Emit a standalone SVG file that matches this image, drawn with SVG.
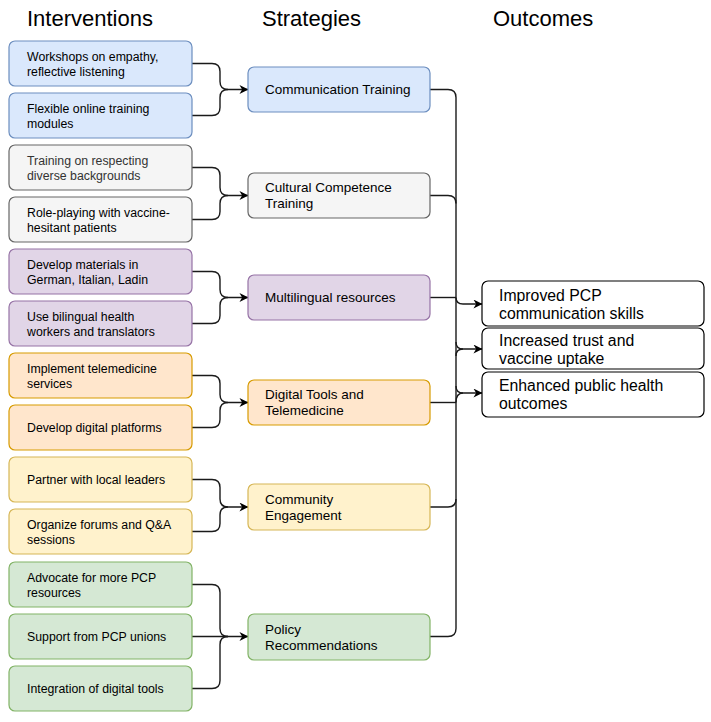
<svg xmlns="http://www.w3.org/2000/svg" width="711" height="722" viewBox="0 0 711 722">
<defs>
<marker id="arr" viewBox="0 0 10 10" refX="9.5" refY="5" markerWidth="11" markerHeight="9" markerUnits="userSpaceOnUse" orient="auto">
<path d="M0,0 L10,5 L0,10 L3,5 Z" fill="#000"/>
</marker>
<style>
text{font-family:"Liberation Sans",Arial,Helvetica,sans-serif;fill:#000}
.h{font-size:22px}
.i{font-size:12.3px}
.s{font-size:13.5px}
.o{font-size:15.8px}
rect{stroke-width:1.2}
.blue{fill:#dae8fc;stroke:#6c8ebf}
.gray{fill:#f5f5f5;stroke:#666666}
.purple{fill:#e1d5e7;stroke:#9673a6}
.orange{fill:#ffe6cc;stroke:#d79b00}
.yellow{fill:#fff2cc;stroke:#d6b656}
.green{fill:#d5e8d4;stroke:#82b366}
.out{fill:#fff;stroke:#000}
.e{fill:none;stroke:#1a1a1a;stroke-width:1.4}
</style>
</defs>
<rect width="711" height="722" fill="#fff"/>
<g id="headers">
<text class="h" x="27" y="26">Interventions</text>
<text class="h" x="262" y="26">Strategies</text>
<text class="h" x="493" y="26">Outcomes</text>
</g>
<g id="connectors">
<path class="e" d="M192,63.5 H212 Q220,63.5 220,71.5 V81.5 Q220,89.5 228,89.5 H248" marker-end="url(#arr)"/>
<path class="e" d="M192,115.5 H212 Q220,115.5 220,107.5 V97.5 Q220,89.5 228,89.5"/>
<path class="e" d="M192,167.5 H212 Q220,167.5 220,175.5 V187.5 Q220,195.5 228,195.5 H248" marker-end="url(#arr)"/>
<path class="e" d="M192,219.5 H212 Q220,219.5 220,211.5 V203.5 Q220,195.5 228,195.5"/>
<path class="e" d="M192,271.5 H212 Q220,271.5 220,279.5 V289.5 Q220,297.5 228,297.5 H248" marker-end="url(#arr)"/>
<path class="e" d="M192,323.5 H212 Q220,323.5 220,315.5 V305.5 Q220,297.5 228,297.5"/>
<path class="e" d="M192,375.5 H212 Q220,375.5 220,383.5 V394.5 Q220,402.5 228,402.5 H248" marker-end="url(#arr)"/>
<path class="e" d="M192,427.5 H212 Q220,427.5 220,419.5 V410.5 Q220,402.5 228,402.5"/>
<path class="e" d="M192,479.5 H212 Q220,479.5 220,487.5 V499 Q220,507 228,507 H248" marker-end="url(#arr)"/>
<path class="e" d="M192,531.5 H212 Q220,531.5 220,523.5 V515 Q220,507 228,507"/>
<path class="e" d="M192,584.5 H212 Q220,584.5 220,592.5 V628.5 Q220,636.5 228,636.5"/>
<path class="e" d="M192,636.5 H248" marker-end="url(#arr)"/>
<path class="e" d="M192,688.5 H212 Q220,688.5 220,680.5 V644.5 Q220,636.5 228,636.5"/>
<path class="e" d="M430,89.5 H448 Q456,89.5 456,97.5 V628.5 Q456,636.5 448,636.5 H430"/>
<path class="e" d="M430,195.5 H448 Q456,195.5 456,203.5"/>
<path class="e" d="M430,297.5 H456"/>
<path class="e" d="M430,402.5 H456"/>
<path class="e" d="M430,507 H448 Q456,507 456,499"/>
<path class="e" d="M456,297.5 Q456,304 463,304 H482" marker-end="url(#arr)"/>
<path class="e" d="M456,342 Q456,349 463,349 H482" marker-end="url(#arr)"/>
<path class="e" d="M456,356 Q456,349 463,349"/>
<path class="e" d="M456,386 Q456,393 463,393 H482" marker-end="url(#arr)"/>
<path class="e" d="M456,402.5 Q456,393 463,393"/>
</g>
<g id="i1"><rect class="blue" x="9" y="41" width="183" height="45" rx="6"/><text class="i" x="27" y="60.5">Workshops on empathy,</text><text class="i" x="27" y="75.5">reflective listening</text></g>
<g id="i2"><rect class="blue" x="9" y="93" width="183" height="45" rx="6"/><text class="i" x="27" y="112.5">Flexible online training</text><text class="i" x="27" y="127.5">modules</text></g>
<g id="i3"><rect class="gray" x="9" y="145" width="183" height="45" rx="6"/><text class="i" x="27" y="164.5" style="fill:#333333">Training on respecting</text><text class="i" x="27" y="179.5" style="fill:#333333">diverse backgrounds</text></g>
<g id="i4"><rect class="gray" x="9" y="197" width="183" height="45" rx="6"/><text class="i" x="27" y="216.5">Role-playing with vaccine-</text><text class="i" x="27" y="231.5">hesitant patients</text></g>
<g id="i5"><rect class="purple" x="9" y="249" width="183" height="45" rx="6"/><text class="i" x="27" y="268.5">Develop materials in</text><text class="i" x="27" y="283.5">German, Italian, Ladin</text></g>
<g id="i6"><rect class="purple" x="9" y="301" width="183" height="45" rx="6"/><text class="i" x="27" y="320.5">Use bilingual health</text><text class="i" x="27" y="335.5">workers and translators</text></g>
<g id="i7"><rect class="orange" x="9" y="353" width="183" height="45" rx="6"/><text class="i" x="27" y="372.5">Implement telemedicine</text><text class="i" x="27" y="387.5">services</text></g>
<g id="i8"><rect class="orange" x="9" y="405" width="183" height="45" rx="6"/><text class="i" x="27" y="431.5">Develop digital platforms</text></g>
<g id="i9"><rect class="yellow" x="9" y="457" width="183" height="45" rx="6"/><text class="i" x="27" y="483.5">Partner with local leaders</text></g>
<g id="i10"><rect class="yellow" x="9" y="509" width="183" height="45" rx="6"/><text class="i" x="27" y="528.5">Organize forums and Q&amp;A</text><text class="i" x="27" y="543.5">sessions</text></g>
<g id="i11"><rect class="green" x="9" y="562" width="183" height="45" rx="6"/><text class="i" x="27" y="581.5">Advocate for more PCP</text><text class="i" x="27" y="596.5">resources</text></g>
<g id="i12"><rect class="green" x="9" y="614" width="183" height="45" rx="6"/><text class="i" x="27" y="640.5">Support from PCP unions</text></g>
<g id="i13"><rect class="green" x="9" y="666" width="183" height="45" rx="6"/><text class="i" x="27" y="692.5">Integration of digital tools</text></g>
<g id="s1"><rect class="blue" x="248" y="67" width="182" height="45" rx="6"/><text class="s" x="265" y="94">Communication Training</text></g>
<g id="s2"><rect class="gray" x="248" y="173" width="182" height="45" rx="6"/><text class="s" x="265" y="192">Cultural Competence</text><text class="s" x="265" y="208">Training</text></g>
<g id="s3"><rect class="purple" x="248" y="275" width="182" height="45" rx="6"/><text class="s" x="265" y="302">Multilingual resources</text></g>
<g id="s4"><rect class="orange" x="248" y="380" width="182" height="45" rx="6"/><text class="s" x="265" y="399">Digital Tools and</text><text class="s" x="265" y="415">Telemedicine</text></g>
<g id="s5"><rect class="yellow" x="248" y="484" width="182" height="46" rx="6"/><text class="s" x="265" y="504">Community</text><text class="s" x="265" y="520">Engagement</text></g>
<g id="s6"><rect class="green" x="248" y="614" width="182" height="46" rx="6"/><text class="s" x="265" y="634">Policy</text><text class="s" x="265" y="650">Recommendations</text></g>
<g id="o1"><rect class="out" x="482" y="281" width="222" height="45" rx="6"/><text class="o" x="499" y="300.5">Improved PCP</text><text class="o" x="499" y="318.5">communication skills</text></g>
<g id="o2"><rect class="out" x="482" y="328" width="222" height="41" rx="6"/><text class="o" x="499" y="345.5">Increased trust and</text><text class="o" x="499" y="363.5">vaccine uptake</text></g>
<g id="o3"><rect class="out" x="482" y="372" width="222" height="45" rx="6"/><text class="o" x="499" y="390.5">Enhanced public health</text><text class="o" x="499" y="408.5">outcomes</text></g>
</svg>
